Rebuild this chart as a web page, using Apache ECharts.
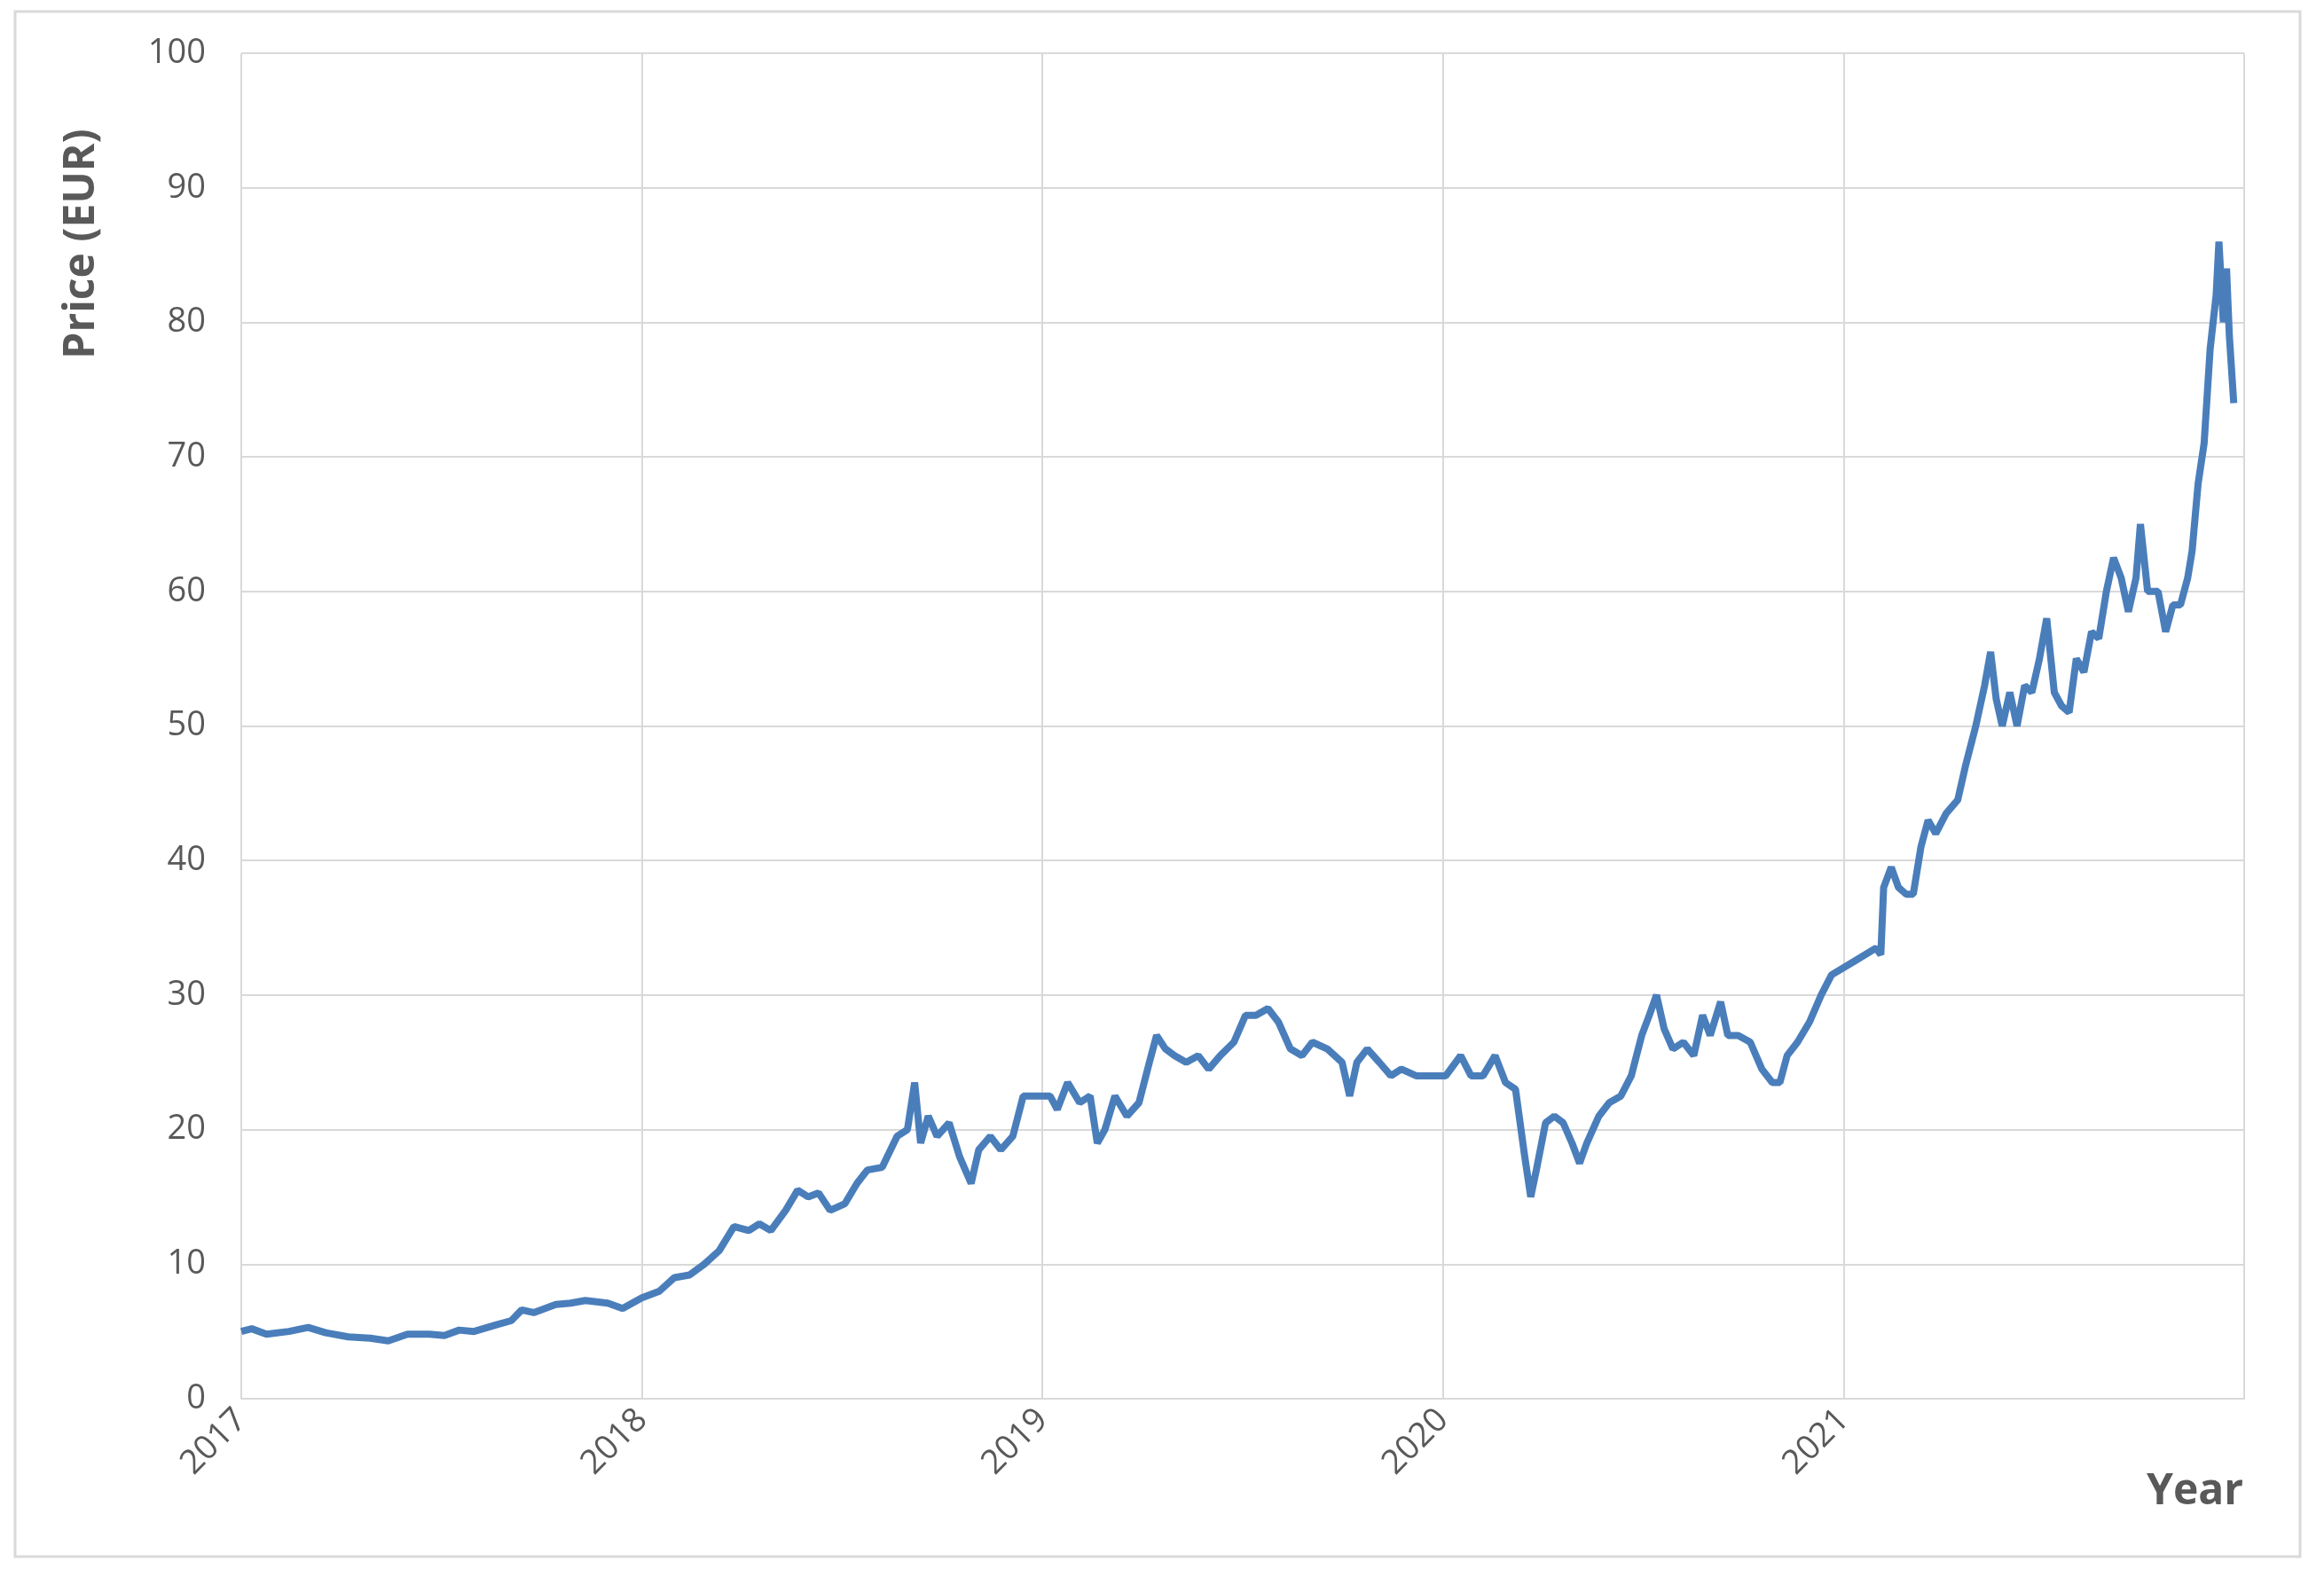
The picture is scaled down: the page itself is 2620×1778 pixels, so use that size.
<!DOCTYPE html>
<html><head><meta charset="utf-8">
<script src="https://cdn.jsdelivr.net/npm/echarts@6/dist/echarts.min.js"></script>
<style>html,body{margin:0;padding:0;background:#fff}#c{width:2620px;height:1778px}</style>
</head><body><div id="c"></div>
<script>
// years since 2017-01-01
const yearsSince2017 = [0,.026,.063,.119,.167,.211,.267,.322,.367,.415,.470,.507,.544,.581,.637,.674,.7,.730,.785,.822,.859,.915,.952,1.0,1.044,1.081,1.119,1.156,1.193,1.230,1.267,1.293,1.322,1.359,1.389,1.415,1.441,1.470,1.507,1.537,1.563,1.6,1.637,1.663,1.681,1.696,1.715,1.737,1.767,1.793,1.822,1.841,1.870,1.896,1.926,1.952,1.989,2.019,2.037,2.063,2.093,2.119,2.137,2.156,2.181,2.211,2.241,2.267,2.285,2.307,2.330,2.359,2.389,2.415,2.444,2.478,2.507,2.533,2.563,2.589,2.619,2.648,2.674,2.711,2.748,2.767,2.785,2.811,2.841,2.870,2.896,2.933,2.970,3.007,3.044,3.070,3.1,3.130,3.156,3.181,3.204,3.219,3.233,3.256,3.278,3.3,3.322,3.341,3.359,3.389,3.415,3.444,3.470,3.496,3.515,3.533,3.552,3.574,3.6,3.626,3.648,3.667,3.693,3.711,3.737,3.767,3.796,3.822,3.841,3.859,3.885,3.915,3.944,3.970,4.026,4.081,4.093,4.1,4.119,4.137,4.156,4.174,4.193,4.211,4.230,4.256,4.285,4.304,4.330,4.352,4.367,4.381,4.396,4.415,4.433,4.452,4.470,4.489,4.507,4.526,4.544,4.563,4.581,4.6,4.619,4.637,4.656,4.674,4.693,4.711,4.730,4.741,4.759,4.785,4.804,4.822,4.841,4.859,4.870,4.885,4.9,4.915,4.930,4.937,4.948,4.956,4.963,4.974];
const prices = [5,5.2,4.8,5,5.3,4.9,4.6,4.5,4.3,4.8,4.8,4.7,5.1,5,5.5,5.8,6.6,6.4,7,7.1,7.3,7.1,6.7,7.5,8,9,9.2,10,11,12.8,12.5,13,12.5,14,15.5,15,15.3,14,14.5,16,17,17.2,19.5,20,23.5,19,21,19.5,20.5,18,16,18.5,19.5,18.5,19.5,22.5,22.5,22.5,21.5,23.5,22,22.5,19,20,22.5,21,22,25,27,26,25.5,25,25.5,24.5,25.5,26.5,28.5,28.5,29,28,26,25.5,26.5,26,25,22.5,25,26,25,24,24.5,24,24,24,25.5,24,24,25.5,23.5,23,18,15,17,20.5,21,20.5,19,17.5,19,21,22,22.5,24,27,28.5,30,27.5,26,26.5,25.5,28.5,27,29.5,27,27,26.5,24.5,23.5,23.5,25.5,26.5,28,30,31.5,32.5,33.5,33,38,39.5,38,37.5,37.5,41,43,42,43.5,44.5,47,50,53,55.5,52,50,52.5,50,53,52.5,55,58,52.5,51.5,51,55,54,57,56.5,60,62.5,61,58.5,61,65,60,60,57,59,59,61,63,68,71,78,82,86,80,84,79,74];
const yearLabels = ['2017','2018','2019','2020','2021'];
const data = yearsSince2017.map((x,i)=>[x,prices[i]]);
const chart = echarts.init(document.getElementById('c'));
const tc = '#595959';
chart.setOption({
  backgroundColor:'#fff',
  animation:false,
  grid:{left:272,right:90,top:60,bottom:201},
  xAxis:{type:'value',min:0,max:5,interval:1,
    axisLine:{show:true,lineStyle:{color:'#d9d9d9',width:2}},axisTick:{show:false},
    splitLine:{show:true,lineStyle:{color:'#d9d9d9',width:2}},
    axisLabel:{color:tc,fontSize:38,fontFamily:'Open Sans',rotate:45,margin:18,
      formatter:v=>yearLabels[Math.round(v)]||''}},
  yAxis:{type:'value',min:0,max:100,interval:10,
    axisLine:{show:false},axisTick:{show:false},
    splitLine:{lineStyle:{color:'#d9d9d9',width:2}},
    axisLabel:{color:tc,fontSize:38,fontFamily:'Open Sans',margin:40}},
  graphic:[
    {type:'rect',shape:{x:17,y:13,width:2576,height:1742},style:{fill:'none',stroke:'#d9d9d9',lineWidth:3}},
    {type:'text',x:92,y:275,rotation:Math.PI/2,style:{text:'Price (EUR)',fill:tc,fontSize:48,fontWeight:'bold',fontFamily:'Open Sans',align:'center',verticalAlign:'middle'}},
    {type:'text',left:2420,top:1658,style:{text:'Year',fill:tc,fontSize:48,fontWeight:'bold',fontFamily:'Open Sans'}}
  ],
  series:[{type:'line',data:data,showSymbol:false,lineStyle:{color:'#4a7ebb',width:8},itemStyle:{color:'#4a7ebb'}}]
});
</script></body></html>
